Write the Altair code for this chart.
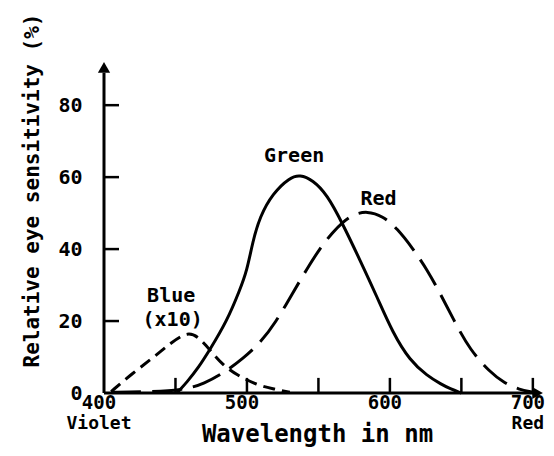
import altair as alt
import pandas as pd

# ---- data ----
green_nm = [451, 458, 466, 474, 486, 495, 500, 504, 509, 518, 530, 537, 546, 556, 567, 579, 591, 602, 614, 626, 636, 642, 650]
green_v = [0, 3, 7, 12, 20, 28.6, 34, 42, 49, 55.5, 59.9, 60.7, 59.2, 55.2, 47, 37, 26.7, 16.7, 9, 4.8, 2.4, 1.2, 0]

red_nm = [405, 430, 455, 470, 486, 497, 509, 520, 532, 542, 551, 560, 567, 574, 584, 595, 605, 616, 626, 635, 645, 656, 670, 680, 690, 700]
red_v = [0.2, 0.3, 0.8, 2.5, 6.2, 9.5, 13.8, 19.5, 27.8, 34.5, 40.2, 44.7, 47.5, 49.6, 50.6, 49.2, 45.8, 40.2, 34.3, 27.8, 20, 12, 5.8, 2.8, 1.0, 0.2]

blue_nm = [405, 420, 434, 447, 459, 467, 474, 483, 493, 507, 518, 530]
blue_v = [0.4, 5.5, 9.7, 14, 17.2, 15.2, 12, 7.8, 5, 2.2, 1.2, 0.2]

x_ticks = [450, 500, 550, 600, 650, 700]
x_labels = [400, 500, 600, 700]
x_names = ["Violet", "Red"]
x_name_pos = [400, 700]
y_ticks = [20, 40, 60, 80]
y_labels = [0, 20, 40, 60, 80]

curve_names = ["Green", "Red", "Blue", "(x10)"]
curve_label_nm = [533, 592, 447, 448]
curve_label_v = [66, 54, 26.9, 20.3]

FONT = "DejaVu Sans Mono"
X_MAX = 705
Y_MAX = 92

xs = alt.Scale(domain=[400, X_MAX], nice=False, zero=False)
ys = alt.Scale(domain=[0, Y_MAX], nice=False)

x_axis = alt.Axis(
    values=x_labels, domain=False, ticks=False, grid=False, labels=False,
    title="Wavelength in nm", titleFont=FONT, titleFontWeight="bold", titleFontSize=24,
    titleColor="black", titleX=213, titleY=48, titleAlign="center", titleBaseline="alphabetic",
)
y_axis = alt.Axis(
    values=y_labels, domain=False, ticks=False, grid=False,
    labelFont=FONT, labelFontWeight="bold", labelFontSize=20, labelColor="black",
    labelPadding=22, labelFlush=False, labelOverlap=False,
    title="Relative eye sensitivity (%)", titleFont=FONT, titleFontWeight="bold", titleFontSize=21,
    titleColor="black", titleAngle=270, titleX=-72, titleY=128, titleAlign="center", titleBaseline="middle",
)

def line_df(nm, v):
    return pd.DataFrame({"nm": nm, "v": v})

green = alt.Chart(line_df(green_nm, green_v)).mark_line(
    color="black", strokeWidth=3, interpolate="basis"
).encode(x=alt.X("nm:Q", scale=xs, axis=x_axis), y=alt.Y("v:Q", scale=ys, axis=y_axis))

red = alt.Chart(line_df(red_nm, red_v)).mark_line(
    color="black", strokeWidth=3, interpolate="basis", strokeDash=[30, 11]
).encode(x=alt.X("nm:Q", scale=xs), y=alt.Y("v:Q", scale=ys))

blue = alt.Chart(line_df(blue_nm, blue_v)).mark_line(
    color="black", strokeWidth=3, interpolate="basis", strokeDash=[12, 7]
).encode(x=alt.X("nm:Q", scale=xs), y=alt.Y("v:Q", scale=ys))

# axis lines with arrows
xline = alt.Chart(pd.DataFrame({"a": [400], "b": [702], "y": [0]})).mark_rule(
    color="black", strokeWidth=3
).encode(x=alt.X("a:Q", scale=xs), x2="b:Q", y=alt.Y("y:Q", scale=ys))
yline = alt.Chart(pd.DataFrame({"x": [400], "a": [0], "b": [89]})).mark_rule(
    color="black", strokeWidth=3
).encode(x=alt.X("x:Q", scale=xs), y=alt.Y("a:Q", scale=ys), y2="b:Q")

xarrow = alt.Chart(pd.DataFrame({"x": [703.3], "y": [0]})).mark_point(
    shape="triangle-right", filled=True, size=150, color="black", opacity=1
).encode(x=alt.X("x:Q", scale=xs), y=alt.Y("y:Q", scale=ys))
yarrow = alt.Chart(pd.DataFrame({"x": [400], "y": [90.5]})).mark_point(
    shape="triangle-up", filled=True, size=150, color="black", opacity=1
).encode(x=alt.X("x:Q", scale=xs), y=alt.Y("y:Q", scale=ys))

# inward ticks
xt = alt.Chart(pd.DataFrame({"x": x_ticks, "a": [0] * len(x_ticks), "b": [4.2] * len(x_ticks)})).mark_rule(
    color="black", strokeWidth=2.5
).encode(x=alt.X("x:Q", scale=xs), y=alt.Y("a:Q", scale=ys), y2="b:Q")
yt = alt.Chart(pd.DataFrame({"y": y_ticks, "a": [400] * len(y_ticks), "b": [410.5] * len(y_ticks)})).mark_rule(
    color="black", strokeWidth=2.5
).encode(y=alt.Y("y:Q", scale=ys), x=alt.X("a:Q", scale=xs), x2="b:Q")

# x tick labels and the colour names under the ends
xlab = alt.Chart(pd.DataFrame({"x": x_labels, "y": [0] * len(x_labels), "t": [str(v) for v in x_labels]})).mark_text(
    font=FONT, fontWeight="bold", fontSize=19, color="black", align="center", baseline="middle", dy=10, dx=-5
).encode(x=alt.X("x:Q", scale=xs), y=alt.Y("y:Q", scale=ys), text="t:N")
xnames = alt.Chart(pd.DataFrame({"x": x_name_pos, "y": [0, 0], "t": x_names})).mark_text(
    font=FONT, fontWeight="bold", fontSize=18, color="black", align="center", baseline="middle", dy=31, dx=-5
).encode(x=alt.X("x:Q", scale=xs), y=alt.Y("y:Q", scale=ys), text="t:N")

labels = alt.Chart(pd.DataFrame({"t": curve_names, "x": curve_label_nm, "y": curve_label_v})).mark_text(
    font=FONT, fontWeight="bold", fontSize=20, color="black", align="center", baseline="middle"
).encode(x=alt.X("x:Q", scale=xs), y=alt.Y("y:Q", scale=ys), text="t:N")

chart = alt.layer(green, red, blue, xline, yline, xarrow, yarrow, xt, yt, xlab, xnames, labels).properties(
    width=436, height=331,
    autosize=alt.AutoSizeParams(type="none"),
    padding={"left": 96, "top": 54, "right": 6, "bottom": 55},
    background="white",
).configure_view(strokeWidth=0)

chart.save("out.html", embed_options={"renderer": "svg", "actions": False})
